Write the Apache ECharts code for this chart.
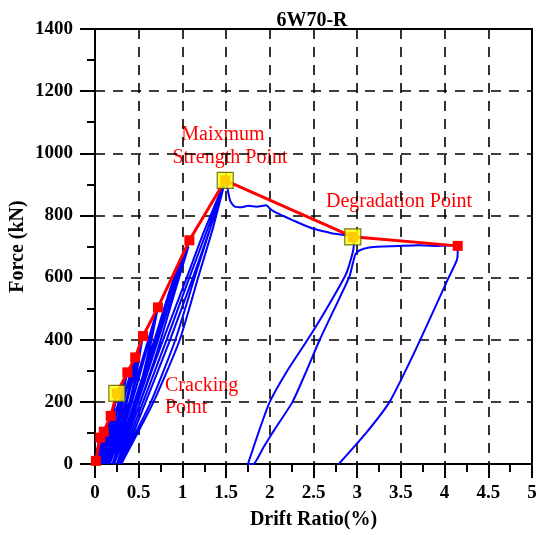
<!DOCTYPE html>
<html>
<head>
<meta charset="utf-8">
<script src="https://cdn.jsdelivr.net/npm/echarts@6/dist/echarts.min.js"></script>
<style>html,body{margin:0;padding:0;background:#fff}#c{width:538px;height:535px}</style>
</head>
<body>
<div id="c"></div>
<script>
// Envelope (skeleton) curve
const envDrift = [0.01, 0.06, 0.10, 0.18, 0.25, 0.37, 0.46, 0.55, 0.72, 1.08, 1.49, 2.95, 4.15];
const envForce = [10, 85, 104, 155, 227, 295, 343, 412, 504, 720, 913, 731, 702];
// Characteristic points: cracking, maximum strength, degradation
const keyDrift = [0.25, 1.49, 2.95];
const keyForce = [227, 913, 731];
// Hysteresis curve (drift %, force kN)
const hysteresis = [
[0,0],[0.02,40],[0.05,80],[0.03,45],[0.01,0],
[0.03,45],[0.06,85],[0.04,45],[0.02,0],
[0.05,55],[0.10,104],[0.07,55],[0.03,0],
[0.06,52],[0.10,100],[0.07,50],[0.04,0],
[0.10,80],[0.18,155],[0.12,80],[0.05,0],
[0.11,78],[0.17,150],[0.13,75],[0.06,0],
[0.15,115],[0.25,225],[0.18,115],[0.07,0],
[0.16,110],[0.24,215],[0.18,108],[0.08,0],
[0.22,150],[0.37,295],[0.26,150],[0.10,0],
[0.23,145],[0.36,285],[0.27,145],[0.11,0],
[0.28,170],[0.46,343],[0.33,170],[0.13,0],
[0.29,165],[0.45,335],[0.34,165],[0.14,0],
[0.35,200],[0.55,412],[0.40,205],[0.16,0],
[0.36,195],[0.54,400],[0.41,200],[0.17,0],
[0.45,250],[0.72,504],[0.52,255],[0.20,0],
[0.47,245],[0.71,490],[0.53,250],[0.22,0],
[0.45,200],[0.68,400],[0.88,580],[1.08,720],[0.90,560],[0.70,380],[0.48,190],[0.25,0],
[0.48,200],[0.70,400],[0.90,580],[1.07,700],[0.92,560],[0.72,370],[0.50,185],[0.26,0],
[0.52,200],[0.78,400],[1.05,600],[1.25,750],[1.49,913],[1.32,760],[1.14,600],[0.92,400],[0.64,200],[0.28,0],
[0.55,200],[0.82,400],[1.08,600],[1.28,750],[1.48,900],[1.35,760],[1.18,600],[0.97,400],[0.67,200],[0.30,0],
[0.58,200],[0.86,400],[1.12,600],[1.32,760],[1.46,880],[1.50,912],[1.52,880],[1.55,845],[1.60,828],[1.68,826],[1.75,831],[1.85,828],[1.96,833],[2.00,822],[2.05,812],[2.14,800],[2.26,785],[2.38,770],[2.49,758],[2.60,750],[2.72,742],[2.87,737],[2.95,735],[2.96,700],[2.93,661],[2.87,610],[2.65,500],[2.43,399],[2.20,300],[2.00,200],[1.88,109],[1.75,0],
[1.81,0],[1.93,55],[2.05,109],[2.26,200],[2.42,300],[2.57,399],[2.74,500],[2.91,602],[2.95,645],[2.98,675],[3.03,688],[3.14,697],[3.30,700],[3.48,702],[3.71,704],[3.90,702],[4.09,704],[4.15,700],[4.15,680],[4.14,656],[4.05,602],[3.86,485],[3.63,345],[3.37,200],[3.10,99],[2.79,0]
];
const xTicks = [0, 0.5, 1, 1.5, 2, 2.5, 3, 3.5, 4, 4.5, 5];
const yTicks = [0, 200, 400, 600, 800, 1000, 1200, 1400];

const serif = 'Liberation Serif';
const chart = echarts.init(document.getElementById('c'), null, {renderer: 'canvas'});
const envelope = envDrift.map((d, i) => [d, envForce[i]]);
const keyPts = keyDrift.map((d, i) => [d, keyForce[i]]);
const gridLine = {show: true, lineStyle: {color: '#000', width: 1.6, type: [10, 8]}};
chart.setOption({
  animation: false,
  backgroundColor: '#fff',
  title: {
    text: '6W70-R', left: 307, top: 6, textAlign: 'center',
    textStyle: {fontFamily: serif, fontWeight: 'bold', fontSize: 20, color: '#000'}
  },
  grid: {left: 95, right: 6, top: 29, bottom: 71, containLabel: false, outerBoundsMode: 'none',
         show: true, borderColor: '#000', borderWidth: 2, backgroundColor: 'transparent'},
  xAxis: {
    type: 'value', min: xTicks[0], max: xTicks[xTicks.length - 1], interval: 0.5,
    name: 'Drift Ratio(%)', nameLocation: 'middle', nameGap: 46, nameMoveOverlap: false,
    nameTextStyle: {fontFamily: serif, fontWeight: 'bold', fontSize: 20, color: '#000'},
    axisLine: {show: true, lineStyle: {color: '#000', width: 2}},
    axisTick: {show: true, length: 14, lineStyle: {color: '#000', width: 2}},
    minorTick: {show: true, splitNumber: 2, length: 8, lineStyle: {color: '#000', width: 2}},
    axisLabel: {fontFamily: serif, fontWeight: 'bold', fontSize: 19, color: '#000', margin: 20,
      formatter: v => String(v)},
    splitLine: gridLine
  },
  yAxis: {
    type: 'value', min: yTicks[0], max: yTicks[yTicks.length - 1], interval: 200,
    name: 'Force (kN)', nameLocation: 'middle', nameGap: 67, nameMoveOverlap: false,
    nameTextStyle: {fontFamily: serif, fontWeight: 'bold', fontSize: 20, color: '#000'},
    axisLine: {show: true, lineStyle: {color: '#000', width: 2}},
    axisTick: {show: true, length: 15, lineStyle: {color: '#000', width: 2}},
    minorTick: {show: true, splitNumber: 2, length: 8, lineStyle: {color: '#000', width: 2}},
    axisLabel: {fontFamily: serif, fontWeight: 'bold', fontSize: 19, color: '#000', margin: 22,
      formatter: v => String(v)},
    splitLine: gridLine
  },
  series: [
    {type: 'line', data: hysteresis, showSymbol: false, smooth: 0.2, z: 2,
     lineStyle: {color: '#0000ff', width: 2}},
    {type: 'line', data: envelope, symbol: 'rect', symbolSize: 10, z: 3,
     itemStyle: {color: '#ff0000'}, lineStyle: {color: '#ff0000', width: 3}},
    {type: 'scatter', data: keyPts, symbol: 'rect', symbolSize: 16, z: 4,
     itemStyle: {color: '#ffff00', borderColor: '#555500', borderWidth: 1.2}}
  ],
  graphic: [
    {type: 'text', x: 223, y: 135, style: {text: 'Maixmum', font: '20px "Liberation Serif"', fill: '#ff0000', textAlign: 'center', textVerticalAlign: 'middle'}},
    {type: 'text', x: 230, y: 158, style: {text: 'Strength Point', font: '20px "Liberation Serif"', fill: '#ff0000', textAlign: 'center', textVerticalAlign: 'middle'}},
    {type: 'text', x: 399, y: 202, style: {text: 'Degradation Point', font: '20px "Liberation Serif"', fill: '#ff0000', textAlign: 'center', textVerticalAlign: 'middle'}},
    {type: 'text', x: 165, y: 386, style: {text: 'Cracking', font: '20px "Liberation Serif"', fill: '#ff0000', textAlign: 'left', textVerticalAlign: 'middle'}},
    {type: 'text', x: 165, y: 408, style: {text: 'Point', font: '20px "Liberation Serif"', fill: '#ff0000', textAlign: 'left', textVerticalAlign: 'middle'}}
  ]
});
</script>
</body>
</html>
